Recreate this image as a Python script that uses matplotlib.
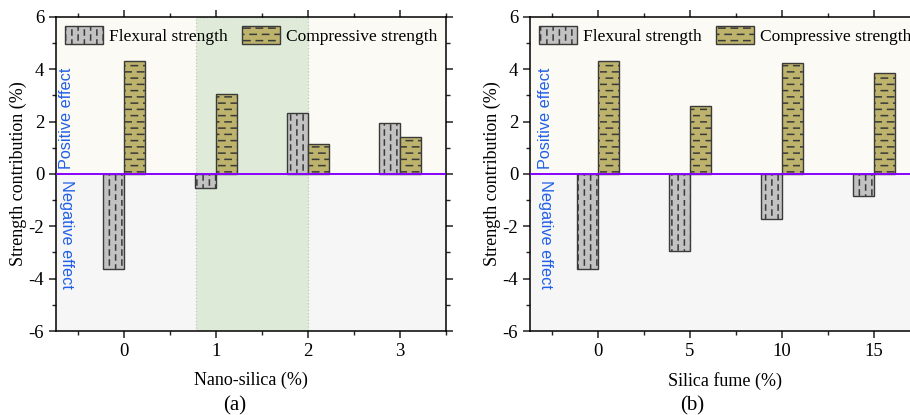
import numpy as np
import matplotlib
matplotlib.use("Agg")
import matplotlib.pyplot as plt
import matplotlib.hatch as mhatch
import matplotlib.transforms as mtransforms
from matplotlib.path import Path
from matplotlib.ticker import MultipleLocator, FixedLocator

# data
ns_labels = ["0", "1", "2", "3"]
ns_flexural = [-3.63, -0.55, 2.32, 1.94]
ns_compressive = [4.32, 3.07, 1.13, 1.41]

sf_labels = ["0", "5", "10", "15"]
sf_flexural = [-3.63, -2.95, -1.72, -0.83]
sf_compressive = [4.32, 2.59, 4.24, 3.87]


# dashed hatches ('|' -> staggered vertical dashes, '-' -> staggered horizontal dashes)
class DashedVertical(mhatch.HatchPatternBase):
    def __init__(self, hatch, density):
        n = hatch.count('|')
        self.ncol = 16 * n
        self.nrow = 10
        self.num_vertices = self.ncol * self.nrow * 2

    def set_vertices_and_codes(self, vertices, codes):
        k = 0
        for i in range(self.ncol):
            x = (i + 0.5) / self.ncol
            off = 0.5 / self.nrow if i % 2 else 0.0
            for j in range(self.nrow):
                y0 = j / self.nrow + off
                vertices[k] = (x, y0)
                vertices[k + 1] = (x, y0 + 0.5 / self.nrow)
                codes[k] = Path.MOVETO
                codes[k + 1] = Path.LINETO
                k += 2


class DashedHorizontal(mhatch.HatchPatternBase):
    def __init__(self, hatch, density):
        n = hatch.count('-')
        self.nrow = 16 * n
        self.ncol = 8
        self.num_vertices = self.ncol * self.nrow * 2

    def set_vertices_and_codes(self, vertices, codes):
        k = 0
        for i in range(self.nrow):
            y = (i + 0.5) / self.nrow
            off = 0.5 / self.ncol if i % 2 else 0.0
            for j in range(self.ncol):
                x0 = j / self.ncol + off
                vertices[k] = (x0, y)
                vertices[k + 1] = (x0 + 0.5 / self.ncol, y)
                codes[k] = Path.MOVETO
                codes[k + 1] = Path.LINETO
                k += 2


mhatch._hatch_types[mhatch._hatch_types.index(mhatch.VerticalHatch)] = DashedVertical
mhatch._hatch_types[mhatch._hatch_types.index(mhatch.HorizontalHatch)] = DashedHorizontal

plt.rcParams['font.family'] = 'Liberation Serif'
plt.rcParams['axes.unicode_minus'] = False
plt.rcParams['hatch.linewidth'] = 1.1
plt.rcParams['axes.linewidth'] = 1.1

fig = plt.figure(figsize=(9.1, 4.15), dpi=100)
ax1 = fig.add_axes([56 / 910, 84 / 415, 390 / 910, 314 / 415])
ax2 = fig.add_axes([530 / 910, 84 / 415, 390 / 910, 314 / 415])

gray = "#c2c2c2"
olive = "#bdb36c"
edge = "#3a3a3a"
w = 0.23


def draw(ax, labels, flex, comp, xlabel, txt_x):
    x = np.arange(len(labels))
    ax.set_xlim(-0.74, 3.5)
    ax.set_ylim(-6, 6)
    ax.axhspan(0, 6, color="#fcfaf4", zorder=0)
    ax.axhspan(-6, 0, color="#f6f6f6", zorder=0)
    ax.bar(x - w / 2, flex, w, color=gray, edgecolor=edge, linewidth=1.0,
           hatch='|', label="Flexural strength", zorder=3)
    ax.bar(x + w / 2, comp, w, color=olive, edgecolor=edge, linewidth=1.0,
           hatch='-', label="Compressive strength", zorder=3)
    ax.axhline(0, color="#8a00ff", lw=1.4, zorder=4)

    ax.xaxis.set_major_locator(FixedLocator(x))
    ax.set_xticklabels(labels)
    ax.xaxis.set_minor_locator(FixedLocator(np.arange(-0.5, 3.6, 1.0)))
    ax.yaxis.set_major_locator(MultipleLocator(2))
    ax.yaxis.set_minor_locator(MultipleLocator(1))
    ax.tick_params(which='both', direction='out', top=True, right=True,
                   labelsize=13.5, color="#222222")
    ax.tick_params(which='major', length=5, width=1.1)
    ax.tick_params(which='minor', length=3, width=1.0)

    ax.set_xlabel(xlabel, fontsize=13)
    ax.xaxis.set_label_coords(0.5, -0.13)
    ax.set_ylabel("Strength contribution (%)", fontsize=13)
    ax.yaxis.set_label_coords(-0.075, 0.5)

    tr = mtransforms.blended_transform_factory(ax.transAxes, ax.transData)
    ax.text(txt_x, 0.18, "Positive effect", rotation=90, ha='center', va='bottom',
            color="#1f5fe8", fontsize=11.7, family="Liberation Sans", transform=tr, zorder=5)
    ax.text(txt_x, -0.22, "Negative effect", rotation=-90, ha='center', va='top',
            color="#1f5fe8", fontsize=11.7, family="Liberation Sans", transform=tr, zorder=5)

    ax.legend(loc='upper left', ncol=2, frameon=False, fontsize=12.5,
              handlelength=2.2, handleheight=1.25, handletextpad=0.35,
              columnspacing=0.8, borderaxespad=0.05, borderpad=0.45)


draw(ax1, ns_labels, ns_flexural, ns_compressive, "Nano-silica (%)", 0.028)
draw(ax2, sf_labels, sf_flexural, sf_compressive, "Silica fume (%)", 0.041)

# highlighted range on nano-silica panel
ax1.axvspan(0.78, 2.0, facecolor="#d6e6cf", alpha=0.75, edgecolor="#a9bfa3",
            linestyle=':', linewidth=0.9, zorder=1)

fig.text(235 / 910, 1 - 406 / 415, "(a)", ha='center', va='center', fontsize=15)
fig.text(692 / 910, 1 - 406 / 415, "(b)", ha='center', va='center', fontsize=15)

fig.savefig("out.png", dpi=100)
